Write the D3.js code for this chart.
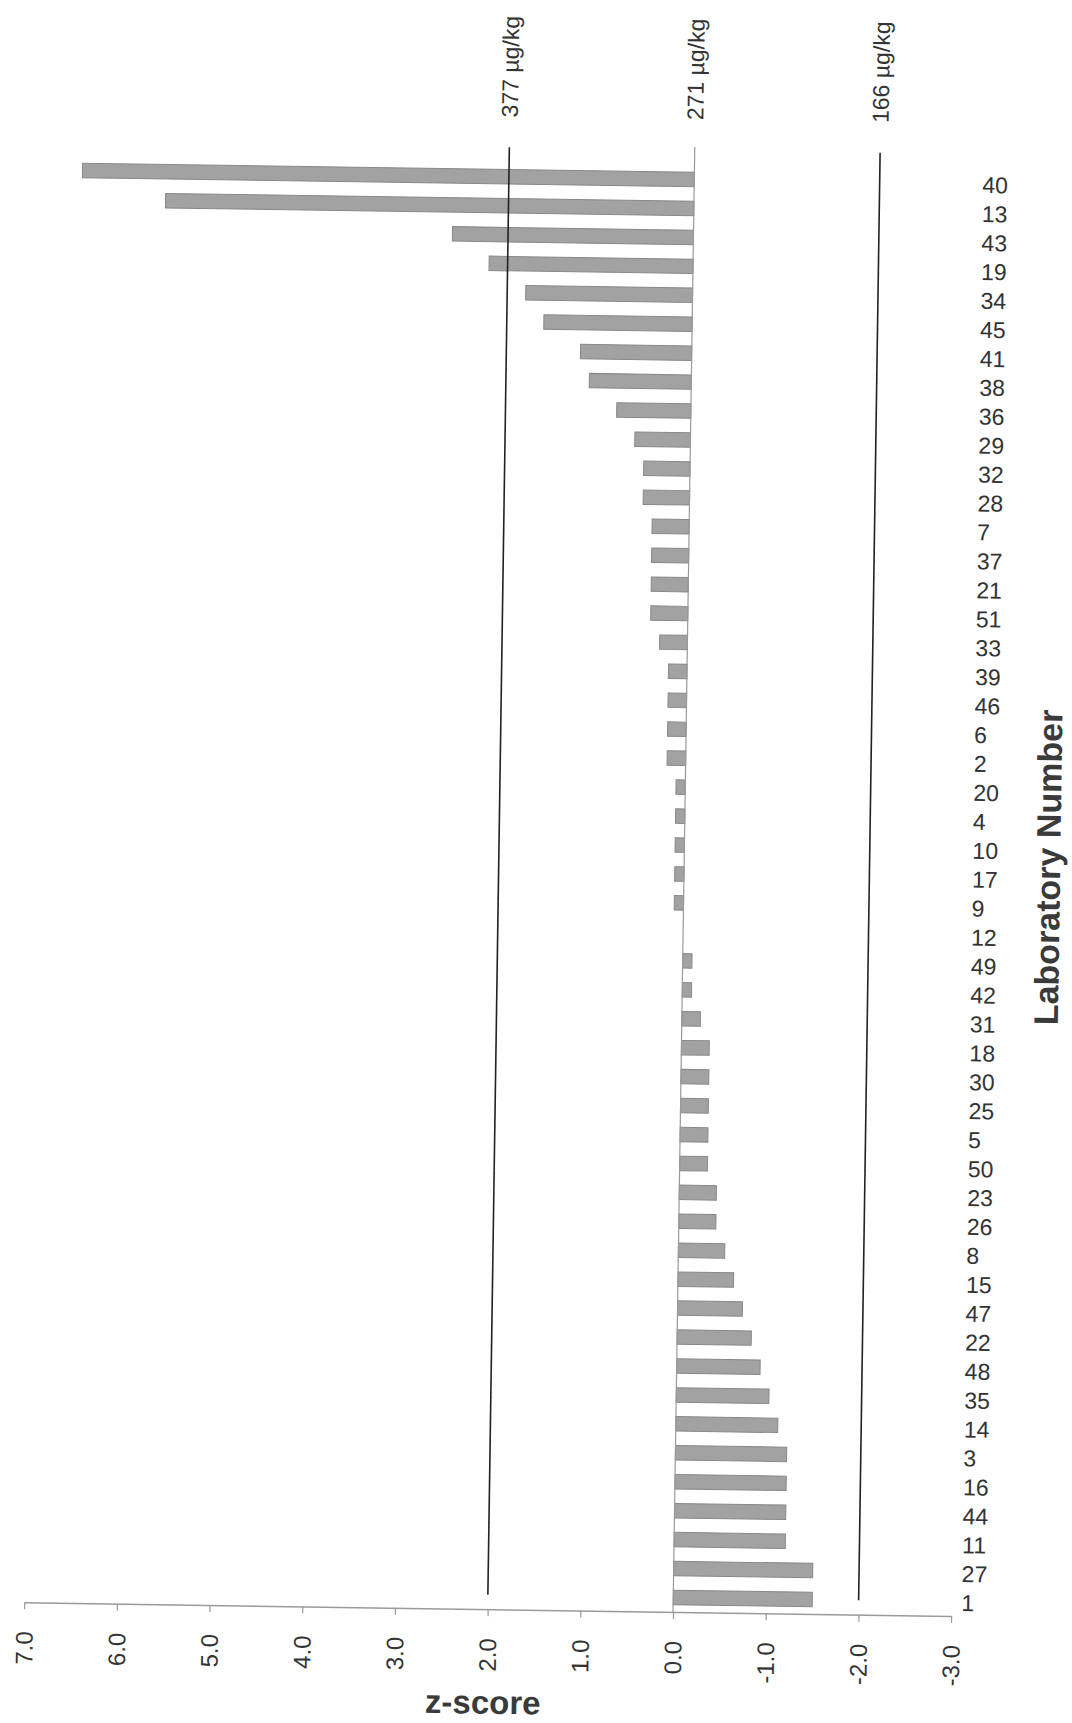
<!DOCTYPE html>
<html>
<head>
<meta charset="utf-8">
<script src="https://cdn.jsdelivr.net/npm/d3@7/dist/d3.min.js"></script>
<style>
  html, body { margin: 0; padding: 0; background: #ffffff; }
  svg { display: block; }
  text { font-family: "Liberation Sans", Arial, sans-serif; }
</style>
</head>
<body>
<svg id="chart" width="1072" height="1723"></svg>
<script>
// ---- data ----
const labs = ["40","13","43","19","34","45","41","38","36","29",
              "32","28","7","37","21","51","33","39","46","6",
              "2","20","4","10","17","9","12","49","42","31",
              "18","30","25","5","50","23","26","8","15","47",
              "22","48","35","14","3","16","44","11","27","1"];
const zScores = [6.6, 5.7, 2.6, 2.2, 1.8, 1.6, 1.2, 1.1, 0.8, 0.6,
                 0.5, 0.5, 0.4, 0.4, 0.4, 0.4, 0.3, 0.2, 0.2, 0.2,
                 0.2, 0.1, 0.1, 0.1, 0.1, 0.1, 0.0, -0.1, -0.1, -0.2,
                 -0.3, -0.3, -0.3, -0.3, -0.3, -0.4, -0.4, -0.5, -0.6, -0.7,
                 -0.8, -0.9, -1.0, -1.1, -1.2, -1.2, -1.2, -1.2, -1.5, -1.5];
const refZ = [2, 0, -2];
const refLabels = ["377 µg/kg", "271 µg/kg", "166 µg/kg"];
const xTicks = [7, 6, 5, 4, 3, 2, 1, 0, -1, -2, -3];

// ---- layout ----
const svg = d3.select("#chart");
const plotTop = 147, plotBottom = 1612;
const g = svg.append("g").attr("transform", "rotate(0.85, 683, 880)");

const x = d3.scaleLinear().domain([7, -3]).range([35, 962]);
const y = d3.scaleBand().domain(labs).range([165, plotBottom])
  .paddingInner(0.5).paddingOuter(0.25);
const bw = y.bandwidth();
const lastCenter = y(labs[labs.length - 1]) + bw / 2;

// bars
g.append("g").selectAll("rect")
  .data(labs.map((l, i) => ({ lab: l, z: zScores[i] })))
  .join("rect")
  .attr("x", d => Math.min(x(d.z), x(0)))
  .attr("width", d => Math.abs(x(d.z) - x(0)))
  .attr("y", d => y(d.lab))
  .attr("height", bw)
  .attr("fill", "#a2a2a2")
  .attr("stroke", "#888888")
  .attr("stroke-width", 1);

// category axis line at zero
g.append("line")
  .attr("x1", x(0)).attr("x2", x(0))
  .attr("y1", plotTop).attr("y2", plotBottom)
  .attr("stroke", "#9a9a9a").attr("stroke-width", 1.2);

// reference lines at +/-2
g.append("g").selectAll("line")
  .data(refZ.filter(z => z !== 0))
  .join("line")
  .attr("x1", d => x(d)).attr("x2", d => x(d))
  .attr("y1", plotTop + 3).attr("y2", lastCenter)
  .attr("stroke", "#222").attr("stroke-width", 1.6);

// reference labels
g.append("g").selectAll("text")
  .data(refZ.map((z, i) => ({ z, t: refLabels[i] })))
  .join("text")
  .attr("transform", d => `translate(${x(d.z)},120) rotate(-90)`)
  .attr("dy", "0.35em")
  .attr("text-anchor", "start")
  .attr("font-size", 23)
  .attr("fill", "#333")
  .text(d => d.t);

// z-score axis
const ax = g.append("g")
  .attr("transform", `translate(0,${plotBottom})`)
  .call(d3.axisBottom(x).tickValues(xTicks).tickSizeInner(7).tickSizeOuter(0)
        .tickFormat(d => d.toFixed(1)));
ax.select(".domain").attr("stroke", "#9a9a9a").attr("stroke-width", 1.5);
ax.selectAll(".tick line").attr("stroke", "#9a9a9a").attr("stroke-width", 1.2);
ax.selectAll(".tick text")
  .attr("transform", "rotate(-90)")
  .attr("x", -29).attr("y", 0).attr("dy", "0.35em")
  .attr("text-anchor", "end")
  .attr("font-size", 24)
  .attr("font-family", "Liberation Sans, Arial, sans-serif")
  .attr("fill", "#333");

// lab number labels
g.append("g").selectAll("text")
  .data(labs)
  .join("text")
  .attr("x", 972)
  .attr("y", d => y(d) + bw / 2 + 1)
  .attr("dy", "0.36em")
  .attr("font-size", 23)
  .attr("fill", "#333")
  .text(d => d);

// axis titles
g.append("text")
  .attr("x", 495).attr("y", 1705).attr("dy", "0.35em")
  .attr("text-anchor", "middle")
  .attr("font-size", 33).attr("font-weight", "bold")
  .attr("fill", "#3a3a3a")
  .text("z-score");

g.append("text")
  .attr("transform", "translate(1048,862) rotate(-90)")
  .attr("dy", "0.35em")
  .attr("text-anchor", "middle")
  .attr("font-size", 34).attr("font-weight", "bold")
  .attr("fill", "#3a3a3a")
  .text("Laboratory Number");
</script>
</body>
</html>
